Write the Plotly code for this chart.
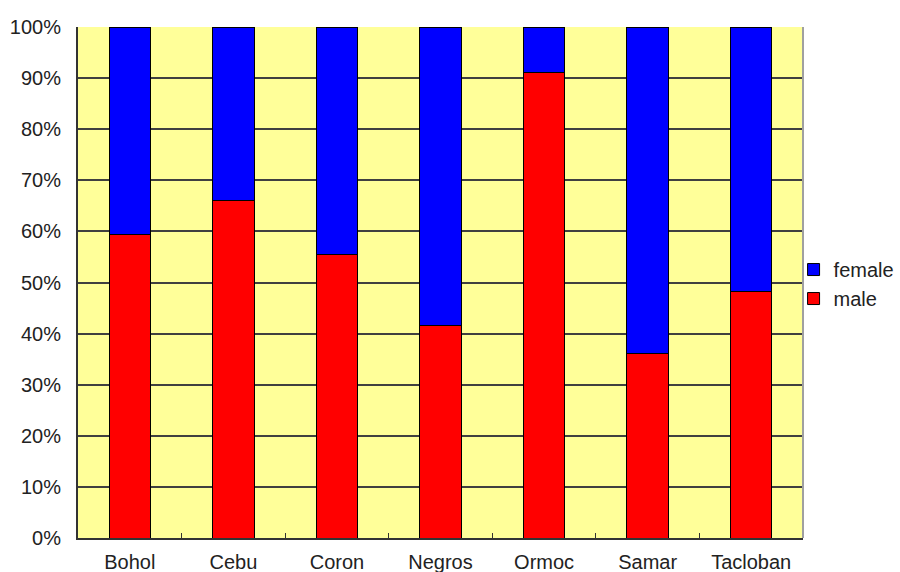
import plotly.graph_objects as go

# Share of respondents by sex in each location (percent)
places = ["Bohol", "Cebu", "Coron", "Negros", "Ormoc", "Samar", "Tacloban"]
male = [59.4, 66.1, 55.5, 41.5, 91.1, 36.1, 48.2]
female = [round(100 - m, 1) for m in male]

font = dict(family="Liberation Sans, Arial, sans-serif", size=20, color="#222222")

fig = go.Figure()
fig.add_trace(go.Bar(
    x=places, y=male, name="male",
    marker=dict(color="#FF0000", line=dict(color="#000000", width=1)),
))
fig.add_trace(go.Bar(
    x=places, y=female, name="female",
    marker=dict(color="#0000FF", line=dict(color="#000000", width=1)),
))

fig.update_layout(
    width=900, height=572,
    barmode="stack",
    bargap=0.6,
    paper_bgcolor="white",
    plot_bgcolor="#FFFF99",
    margin=dict(l=78, r=97, t=27, b=34, autoexpand=False),
    font=font,
    showlegend=True,
    legend=dict(
        traceorder="reversed",
        x=0.987, xanchor="left", y=0.497, yanchor="middle",
        font=font, itemwidth=30, tracegroupgap=0,
        bgcolor="rgba(0,0,0,0)",
    ),
)

fig.update_xaxes(
    type="category",
    showgrid=False,
    showline=True, linecolor="#333333", linewidth=2,
    ticks="inside", tickson="boundaries", ticklen=5, tickcolor="#333333", tickwidth=1,
    tickfont=font,
    ticklabelstandoff=5,
    mirror=False,
)
fig.update_yaxes(
    range=[0, 100],
    tickvals=[0, 10, 20, 30, 40, 50, 60, 70, 80, 90, 100],
    ticktext=["0%", "10%", "20%", "30%", "40%", "50%", "60%", "70%", "80%", "90%", "100%"],
    showgrid=True, gridcolor="#404040", gridwidth=1.5,
    showline=True, linecolor="#333333", linewidth=2,
    zeroline=False,
    ticks="", ticklabelstandoff=11,
    tickfont=font,
)

# Light grey right-hand border of the plot area
fig.add_shape(type="line", xref="paper", yref="paper", x0=1, x1=1, y0=0, y1=1,
              line=dict(color="#A0A0A0", width=2))

fig.write_html("out.html")
